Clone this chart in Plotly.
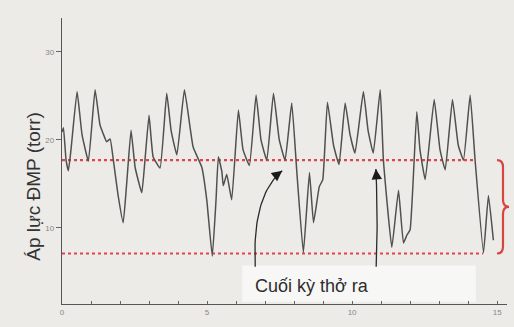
import plotly.graph_objects as go

# Pulmonary artery pressure trace (time in s, pressure in torr)
time_s = [0.00, 0.05, 0.14, 0.22, 0.31, 0.52, 0.69, 0.91, 1.14, 1.31, 1.41, 1.54, 1.66, 1.77,
          1.93, 2.11, 2.24, 2.38, 2.52, 2.75, 2.86, 3.00, 3.14, 3.38, 3.61, 3.76, 3.96, 4.22,
          4.52, 4.82, 4.99, 5.18, 5.31, 5.39, 5.51, 5.56, 5.68, 5.85, 6.08, 6.24, 6.46, 6.69,
          6.86, 7.06, 7.29, 7.49, 7.69, 7.92, 8.09, 8.32, 8.53, 8.67, 8.87, 8.99, 9.15, 9.36,
          9.55, 9.76, 9.93, 10.10, 10.39, 10.55, 10.73, 10.97, 11.08, 11.37, 11.60, 11.77,
          11.89, 12.00, 12.23, 12.34, 12.52, 12.83, 13.03, 13.21, 13.46, 13.66, 13.84, 14.07,
          14.24, 14.53, 14.70, 14.87]
pressure = [20.9, 21.4, 17.7, 16.5, 18.9, 25.5, 20.6, 17.6, 25.7, 21.7, 20.8, 19.8, 20.1, 17.7,
            13.8, 10.6, 15.5, 21.1, 16.9, 14.0, 17.7, 22.8, 18.1, 16.8, 25.3, 21.1, 18.3, 25.7,
            19.2, 16.9, 13.2, 6.8, 13.2, 18.1, 16.4, 14.8, 16.1, 13.2, 23.4, 18.9, 17.1, 25.1,
            20.0, 17.7, 25.3, 20.0, 17.7, 24.2, 16.6, 7.2, 16.3, 10.6, 14.7, 15.5, 24.3, 19.4,
            17.2, 24.2, 20.6, 18.5, 25.5, 21.1, 18.5, 25.7, 17.7, 7.8, 14.3, 8.3,
            9.2, 9.8, 23.2, 18.9, 15.5, 24.6, 18.9, 16.6, 24.6, 19.4, 17.7, 25.1,
            17.7, 7.2, 13.7, 8.6]

# Reference levels (end-expiration)
upper_level = 17.7
lower_level = 7.1
upper_end_t = 14.24
lower_end_t = 14.52

# Points marked as end of expiration
marker_t = [7.69, 10.80]
marker_p = [17.7, 17.7]

x_ticks = list(range(0, 16))
x_tick_text = [str(v) if v % 5 == 0 else "" for v in x_ticks]
y_ticks = [10, 20, 30]
y_tick_text = ["10", "20", "30"]

axis_title = "Áp lực ĐMP (torr)"
note_text = "Cuối kỳ thở ra"

bg = "#ecebe8"
red = "#e0454f"
trace_color = "#505050"

fig = go.Figure()

fig.add_trace(go.Scatter(x=[0, upper_end_t], y=[upper_level, upper_level], mode="lines",
                         line=dict(color=red, width=2.2, dash="dot"), hoverinfo="skip"))
fig.add_trace(go.Scatter(x=[0, lower_end_t], y=[lower_level, lower_level], mode="lines",
                         line=dict(color=red, width=2.2, dash="dot"), hoverinfo="skip"))
fig.add_trace(go.Scatter(x=time_s, y=pressure, mode="lines",
                         line=dict(color=trace_color, width=1.5, shape="spline", smoothing=0.35)))


def bezier(p0, c, p2, n=30):
    xs, ys = [], []
    for i in range(n + 1):
        s = i / n
        xs.append((1 - s) ** 2 * p0[0] + 2 * (1 - s) * s * c[0] + s ** 2 * p2[0])
        ys.append((1 - s) ** 2 * p0[1] + 2 * (1 - s) * s * c[1] + s ** 2 * p2[1])
    return xs, ys


# Curved pointers from the caption to the two marked points
tails = [(6.66, 5.6), (10.83, 5.6)]
ctrls = [(6.55, 13.7), (10.90, 10.9)]
tips = [(marker_t[0] - 0.10, marker_p[0] - 1.2), (marker_t[1] + 0.02, marker_p[1] - 1.0)]
heads = [(-9, 7), (1, 11)]
for tail, ctrl, tip, hd in zip(tails, ctrls, tips, heads):
    bx, by = bezier(tail, ctrl, tip)
    fig.add_trace(go.Scatter(x=bx, y=by, mode="lines", line=dict(color="#2a2a2a", width=1.3),
                             hoverinfo="skip"))
    fig.add_annotation(x=tip[0], y=tip[1], ax=hd[0], ay=hd[1], xref="x", yref="y",
                       showarrow=True, arrowhead=2, arrowsize=1.6, arrowwidth=1.3,
                       arrowcolor="#1a1a1a", text="")

# Caption with a pale box behind it
fig.add_shape(type="rect", xref="paper", yref="paper", x0=0.405, x1=0.93, y0=0.008, y1=0.135,
              fillcolor="#f7f7f6", line=dict(width=0), layer="below")
fig.add_annotation(x=8.62, y=3.4, xref="x", yref="y", text=note_text, showarrow=False,
                   font=dict(family="Liberation Sans, Arial", size=18, color="#2d2d2d"))

# Red brace spanning the two levels
mid = (upper_level + lower_level) / 2
d = 0.8
path = (f"M 0.9775,{upper_level} Q 0.991,{upper_level} 0.991,{upper_level - d} "
        f"L 0.991,{mid + d} Q 0.991,{mid} 1.0045,{mid} Q 0.991,{mid} 0.991,{mid - d} "
        f"L 0.991,{lower_level + d} Q 0.991,{lower_level} 0.9775,{lower_level}")
fig.add_shape(type="path", path=path, xref="paper", yref="y",
              line=dict(color="#d8453e", width=2.2))

# Vertical axis title
fig.add_annotation(x=-0.094, y=0.145, xref="paper", yref="paper", text=axis_title,
                   textangle=-90, showarrow=False,
                   font=dict(family="Liberation Sans, Arial", size=19, color="#333333"))

fig.update_layout(
    width=514, height=327,
    margin=dict(l=62, r=7, t=18, b=23),
    paper_bgcolor=bg, plot_bgcolor=bg,
    showlegend=False,
    xaxis=dict(range=[0, 15.34], tickmode="array", tickvals=x_ticks, ticktext=x_tick_text,
               ticks="inside", ticklen=3, tickcolor="#666", showgrid=False, zeroline=False,
               showline=True, linecolor="#555", linewidth=1.3,
               tickfont=dict(family="Liberation Sans, Arial", size=8, color="#888")),
    yaxis=dict(range=[1.36, 33.86], tickmode="array", tickvals=y_ticks, ticktext=y_tick_text,
               ticks="outside", ticklen=5, tickcolor="#666", showgrid=False, zeroline=False,
               showline=True, linecolor="#555", linewidth=1.3,
               tickfont=dict(family="Liberation Sans, Arial", size=8, color="#888")),
)

fig.write_html("out.html")
